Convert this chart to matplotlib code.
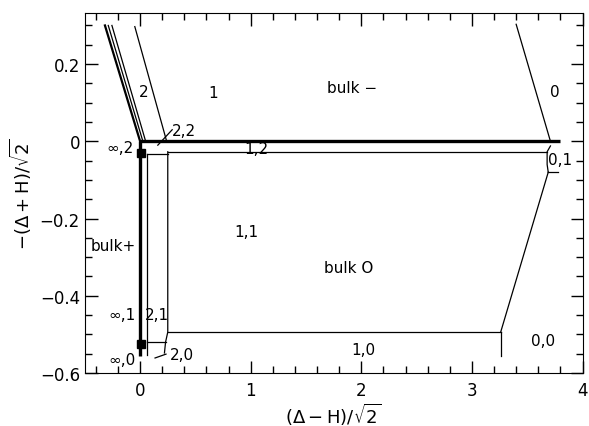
import matplotlib
matplotlib.use('Agg')
import matplotlib.pyplot as plt
from matplotlib.ticker import MultipleLocator

plt.rcParams['font.family'] = ['DejaVu Sans']
plt.rcParams['mathtext.default'] = 'regular'

# phase boundaries (x, y)
# thick lines
thick_top_x = [0.0, 3.80]
thick_top_y = [0.0, 0.0]
thick_left_x = [0.0, 0.0]
thick_left_y = [0.0, -0.556]
wedge1_x = [-0.318, 0.0]
wedge1_y = [0.30, 0.0]

# thin lines
wedge2_x = [-0.288, 0.025]
wedge2_y = [0.30, 0.0]
wedge3_x = [-0.255, 0.05]
wedge3_y = [0.30, 0.0]
one_two_x = [-0.048, 0.24]
one_two_y = [0.297, 0.0]
line12_x = [0.25, 3.68]
line12_y = [-0.027, -0.027]
box22_x = [0.06, 0.25]
box22_y = [-0.032, -0.032]
inner_v_x = [0.06, 0.06]
inner_v_y = [-0.032, -0.552]
col21_x = [0.25, 0.25, 0.23, 0.22]
col21_y = [-0.027, -0.494, -0.52, -0.548]
box20_x = [0.06, 0.23]
box20_y = [-0.52, -0.52]
line10_x = [0.25, 3.26]
line10_y = [-0.494, -0.494]
right_v_x = [3.26, 3.26]
right_v_y = [-0.494, -0.556]
slant_low_x = [3.26, 3.69]
slant_low_y = [-0.494, -0.08]
box01_x = [3.69, 3.68, 3.68, 3.71]
box01_y = [-0.08, -0.06, -0.027, -0.012]
box01_bot_x = [3.69, 3.78]
box01_bot_y = [-0.08, -0.08]
slant_top_x = [3.40, 3.71]
slant_top_y = [0.303, 0.0]
lead22_x = [0.16, 0.29]
lead22_y = [-0.01, 0.03]
lead20_x = [0.135, 0.234]
lead20_y = [-0.561, -0.551]

# special points (squares)
sq_x = [0.012, 0.012]
sq_y = [-0.03, -0.526]

# region labels
lab_txt = ['2', '1', 'bulk −', '0', '2,2', '∞,2', '1,2', '0,1', '1,1',
           'bulk O', 'bulk+', '∞,1', '2,1', '∞,0', '2,0', '1,0', '0,0']
lab_x = [0.03, 0.66, 1.92, 3.75, 0.40, -0.18, 1.05, 3.80, 0.96,
         1.89, -0.24, -0.16, 0.15, -0.16, 0.38, 2.02, 3.64]
lab_y = [0.13, 0.127, 0.14, 0.13, 0.027, -0.016, -0.019, -0.047, -0.233,
         -0.326, -0.27, -0.448, -0.448, -0.566, -0.552, -0.54, -0.517]


def main():
    fig = plt.figure(figsize=(5.89, 4.27), dpi=100)
    ax = fig.add_axes([0.144, 0.124, 0.845, 0.843])

    thick = dict(color='black', lw=2.4, solid_capstyle='butt')
    thin = dict(color='black', lw=0.9)

    for xs, ys in [(thick_top_x, thick_top_y), (thick_left_x, thick_left_y)]:
        ax.plot(xs, ys, **thick)
    ax.plot(wedge1_x, wedge1_y, color='black', lw=1.6)

    for xs, ys in [(wedge2_x, wedge2_y), (wedge3_x, wedge3_y),
                   (one_two_x, one_two_y), (line12_x, line12_y),
                   (box22_x, box22_y), (inner_v_x, inner_v_y),
                   (col21_x, col21_y), (box20_x, box20_y),
                   (line10_x, line10_y), (right_v_x, right_v_y),
                   (slant_low_x, slant_low_y), (box01_x, box01_y),
                   (box01_bot_x, box01_bot_y), (slant_top_x, slant_top_y),
                   (lead22_x, lead22_y), (lead20_x, lead20_y)]:
        ax.plot(xs, ys, **thin)

    ax.plot(sq_x, sq_y, 's', color='black', ms=6, ls='none')

    for t, x, y in zip(lab_txt, lab_x, lab_y):
        ax.text(x, y, t, ha='center', va='center', fontsize=11)

    # Ticks, limits and labels
    ax.set_xlim(-0.5, 4)
    ax.set_ylim(-0.6, 0.332)
    ax.xaxis.set_major_locator(MultipleLocator(1))
    ax.xaxis.set_minor_locator(MultipleLocator(0.2))
    ax.yaxis.set_major_locator(MultipleLocator(0.2))
    ax.yaxis.set_minor_locator(MultipleLocator(0.05))
    ax.tick_params(which='both', direction='in', top=True, right=True)
    ax.tick_params(which='major', length=9, width=1)
    ax.tick_params(which='minor', length=5, width=1)
    ax.tick_params(labelsize=12)
    ax.tick_params(axis='x', pad=6)

    ax.xaxis.set_major_formatter(plt.FuncFormatter(lambda v, p: f'{v:g}'))
    ax.yaxis.set_major_formatter(plt.FuncFormatter(
        lambda v, p: '0' if abs(v) < 1e-9 else f'{v:.1f}'.replace('-', '−')))

    ax.set_xlabel(r'$(\Delta-H)/\sqrt{2}$', fontsize=13, labelpad=1)
    ax.set_ylabel(r'$-(\Delta+H)/\sqrt{2}$', fontsize=13)

    fig.savefig('out.png', dpi=100)


if __name__ == '__main__':
    main()
